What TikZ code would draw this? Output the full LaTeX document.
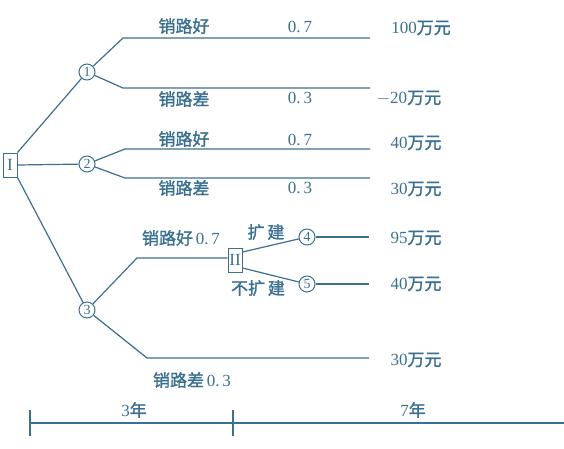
\documentclass[tikz,border=0pt]{standalone}
\usepackage{fontspec}
\setmainfont{Liberation Serif}
\newfontfamily\cjk{Noto Sans CJK SC}[FakeBold=1.5]
\definecolor{ink}{HTML}{3A7090}
\begin{document}
\begin{tikzpicture}[x=1pt,y=-1pt,
  every node/.style={text=ink,font=\fontsize{17}{18}\selectfont},
  line/.style={draw=ink,line width=1.2pt},
  chance/.style={circle,draw=ink,line width=1pt,inner sep=0pt,minimum size=16pt,font=\fontsize{14}{14}\selectfont},
  decision/.style={rectangle,draw=ink,line width=1pt,inner sep=0pt,minimum width=14pt,minimum height=24pt,font=\fontsize{17}{17}\selectfont},
  lbl/.style={inner sep=0pt}]
\useasboundingbox (0,0) rectangle (564,448);
% decision and chance nodes
\node[decision] (D1) at (10,165) {I};
\node[decision] (D2) at (235,260) {II};
\node[chance] (C1) at (87,72) {1};
\node[chance] (C2) at (87,164) {2};
\node[chance] (C3) at (87,310) {3};
\node[chance] (C4) at (307,237) {4};
\node[chance] (C5) at (307,284) {5};
% coordinates
\coordinate (a1) at (123,38);  \coordinate (e1) at (370,38);
\coordinate (a2) at (123,88);  \coordinate (e2) at (370,88);
\coordinate (a3) at (125,149); \coordinate (e3) at (370,149);
\coordinate (a4) at (125,178); \coordinate (e4) at (370,178);
\coordinate (a5) at (137,258);
\coordinate (a6) at (147,358); \coordinate (e6) at (369,358);
\coordinate (e7) at (369,237);
\coordinate (e8) at (369,284);
% connectors
\draw[line] (D1.north east) -- (C1);
\draw[line] (D1.east) -- (C2);
\draw[line] (D1.south east) -- (C3);
\draw[line] (C1) -- (a1) -- (e1);
\draw[line] (C1) -- (a2) -- (e2);
\draw[line] (C2) -- (a3) -- (e3);
\draw[line] (C2) -- (a4) -- (e4);
\draw[line] (C3) -- (a5) -- (a5 -| D2.west);
\draw[line] (C3) -- (a6) -- (e6);
\draw[line] ([yshift=8pt]D2.east) -- (C4);
\draw[line] ([yshift=-8pt]D2.east) -- (C5);
\draw[line] (C4) -- (e7);
\draw[line] (C5) -- (e8);
% labels
\node[lbl] (t1) at (184,26) {\cjk 销路好};
\node[lbl] (p1) at (300,27) {0.\,7};
\node[lbl] (v1) at (421,28) {100\cjk 万元};
\node[lbl] (t2) at (184,99) {\cjk 销路差};
\node[lbl] (p2) at (300,98) {0.\,3};
\node[lbl] (v2) at (409,98) {$-$20\cjk 万元};
\node[lbl] (t3) at (184,139) {\cjk 销路好};
\node[lbl] (p3) at (300,140) {0.\,7};
\node[lbl] (v3) at (416,143) {40\cjk 万元};
\node[lbl] (t4) at (184,188) {\cjk 销路差};
\node[lbl] (p4) at (300,188) {0.\,3};
\node[lbl] (v4) at (416,189) {30\cjk 万元};
\node[lbl] (t5) at (181,238) {{\cjk 销路好}\,0.\,7};
\node[lbl] (t6) at (266,232) {\cjk 扩\,建};
\node[lbl] (t7) at (258,288) {\cjk 不扩\,建};
\node[lbl] (v5) at (416,238) {95\cjk 万元};
\node[lbl] (v6) at (416,284) {40\cjk 万元};
\node[lbl] (v7) at (416,360) {30\cjk 万元};
\node[lbl] (t8) at (192,380) {{\cjk 销路差}\,0.\,3};
% timeline
\coordinate (L0) at (30,423);
\coordinate (L1) at (233,423);
\coordinate (L2) at (564,423);
\draw[line] (L0) -- (L2);
\draw[line] ([yshift=-13pt]L0) -- ([yshift=13pt]L0);
\draw[line] ([yshift=-13pt]L1) -- ([yshift=13pt]L1);
\node[lbl] (y1) at (134,410) {3\cjk 年};
\node[lbl] (y2) at (413,410) {7\cjk 年};
\end{tikzpicture}
\end{document}
